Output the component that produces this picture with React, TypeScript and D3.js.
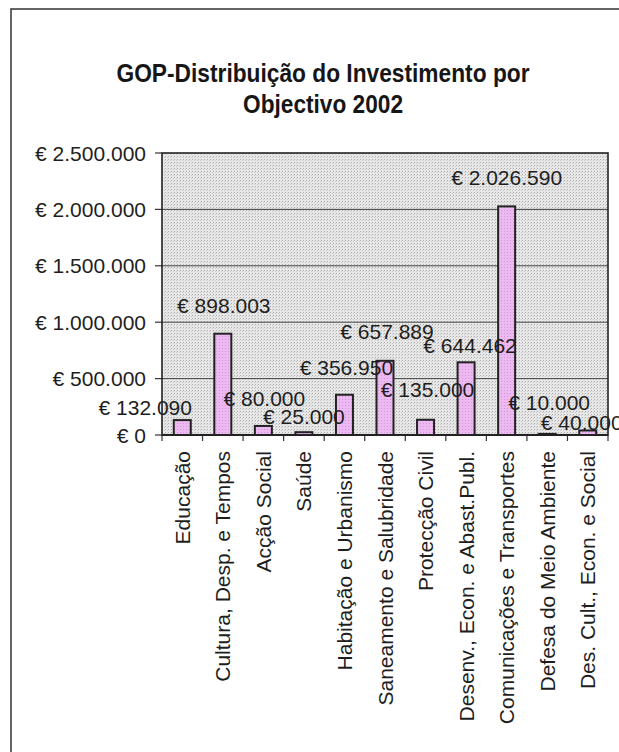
import React from "react";
import * as d3 from "d3";

const categories = [
  "Educação",
  "Cultura, Desp. e Tempos",
  "Acção Social",
  "Saúde",
  "Habitação e Urbanismo",
  "Saneamento e Salubridade",
  "Protecção Civil",
  "Desenv., Econ. e Abast.Publ.",
  "Comunicações e Transportes",
  "Defesa do Meio Ambiente",
  "Des. Cult., Econ. e Social",
];
const values = [132090, 898003, 80000, 25000, 356950, 657889, 135000, 644462, 2026590, 10000, 40000];
const yTicks = [0, 500000, 1000000, 1500000, 2000000, 2500000];
const titleLines = ["GOP-Distribuição do Investimento por", "Objectivo 2002"];
const titleWidths = [413, 160];
// manual label offsets (Excel-dragged labels), px relative to bar top centre
const labelDx = [-37, 1, 1, 0, 2, 2, 2, 4, 0, 2, -6];
const labelDy = [-13, -28, -28, -16, -27, -29, -30, -17, -29, -31, -8];

const W = 619;
const H = 752;
const plot = { left: 162, right: 608, top: 153, bottom: 435 };
const FONT = "'Liberation Sans', Arial, sans-serif";

const fmt = (v: number) => "€ " + d3.format(",")(v).replace(/,/g, ".");

export default function App() {
  const x = d3
    .scaleBand<string>()
    .domain(categories)
    .range([plot.left, plot.right])
    .paddingInner(0.58)
    .paddingOuter(0.29);
  const y = d3.scaleLinear().domain([0, 2500000]).range([plot.bottom, plot.top]);
  const bw = (plot.right - plot.left) / categories.length;
  const bandStart = (i: number) => plot.left + i * bw;
  const barW = 17;

  return (
    <svg
      width={W}
      height={H}
      style={{ position: "absolute", left: 0, top: 0, background: "#fff" }}
      fontFamily={FONT}
    >
      <defs>
        <pattern id="bgdots" width="3" height="3" patternUnits="userSpaceOnUse">
          <rect width="3" height="3" fill="#e8e8e8" />
          <rect x="0" y="0" width="1" height="1" fill="#ababab" />
          <rect x="2" y="1" width="1" height="1" fill="#c8c8c8" />
        </pattern>
        <pattern id="bardots" width="3" height="3" patternUnits="userSpaceOnUse">
          <rect width="3" height="3" fill="#eeb9f2" />
          <rect x="0" y="0" width="1" height="1" fill="#c99bd0" />
        </pattern>
      </defs>

      {/* outer frame */}
      <rect x={11} y={9} width={W + 20} height={H + 20} fill="none" stroke="#333" strokeWidth={1.5} />

      {/* title */}
      {titleLines.map((t, i) => (
        <text
          key={i}
          x={323}
          y={82 + i * 31}
          textAnchor="middle"
          fontSize={25}
          fontWeight="bold"
          fill="#161616"
          textLength={titleWidths[i]}
          lengthAdjust="spacingAndGlyphs"
        >
          {t}
        </text>
      ))}

      {/* plot area */}
      <rect
        x={plot.left}
        y={plot.top}
        width={plot.right - plot.left}
        height={plot.bottom - plot.top}
        fill="url(#bgdots)"
      />
      {yTicks.map((t) => (
        <g key={t}>
          {t > 0 && t < 2500000 && (
            <line x1={plot.left} x2={plot.right} y1={y(t)} y2={y(t)} stroke="#444" strokeWidth={1} />
          )}
          <line x1={plot.left - 7} x2={plot.left} y1={y(t)} y2={y(t)} stroke="#333" strokeWidth={1.2} />
          <text
            x={plot.left - 16}
            y={y(t)}
            dy="0.36em"
            textAnchor="end"
            fontSize={21}
            fill="#1e1e1e"
          >
            {fmt(t)}
          </text>
        </g>
      ))}
      <rect
        x={plot.left}
        y={plot.top}
        width={plot.right - plot.left}
        height={plot.bottom - plot.top}
        fill="none"
        stroke="#222"
        strokeWidth={1.6}
      />

      {/* bars */}
      {categories.map((c, i) => {
        const cx = (x(c) as number) + x.bandwidth() / 2;
        return (
          <rect
            key={c}
            x={cx - barW / 2}
            y={y(values[i])}
            width={barW}
            height={plot.bottom - y(values[i])}
            fill="url(#bardots)"
            stroke="#222"
            strokeWidth={2}
          />
        );
      })}

      {/* x axis ticks */}
      {d3.range(categories.length + 1).map((i) => (
        <line
          key={i}
          x1={bandStart(i)}
          x2={bandStart(i)}
          y1={plot.bottom}
          y2={plot.bottom + 6}
          stroke="#333"
          strokeWidth={1.2}
        />
      ))}
      <line x1={plot.left} x2={plot.right} y1={plot.bottom} y2={plot.bottom} stroke="#222" strokeWidth={2} />

      {/* category labels */}
      {categories.map((c, i) => {
        const cx = (x(c) as number) + x.bandwidth() / 2;
        return (
          <text
            key={c}
            transform={`translate(${cx},${plot.bottom + 16}) rotate(-90)`}
            textAnchor="end"
            dy="0.36em"
            fontSize={21}
            fill="#1e1e1e"
          >
            {c}
          </text>
        );
      })}

      {/* value labels */}
      {categories.map((c, i) => {
        const cx = (x(c) as number) + x.bandwidth() / 2;
        return (
          <text
            key={c}
            x={cx + labelDx[i]}
            y={y(values[i]) + labelDy[i]}
            dy="0.36em"
            textAnchor="middle"
            fontSize={21}
            fill="#1e1e1e"
          >
            {fmt(values[i])}
          </text>
        );
      })}
    </svg>
  );
}
